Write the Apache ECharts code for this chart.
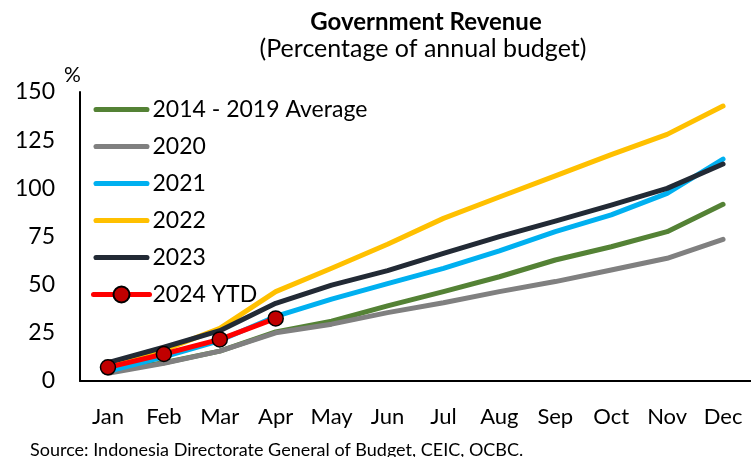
<!DOCTYPE html>
<html>
<head>
<meta charset="utf-8">
<script src="https://cdn.jsdelivr.net/npm/echarts@6/dist/echarts.min.js"></script>
<style>
  html, body { margin: 0; padding: 0; background: #fff; }
  #chart { width: 751px; height: 457px; }
</style>
</head>
<body>
<div id="chart"></div>
<script>
// 数据
const months = ['Jan', 'Feb', 'Mar', 'Apr', 'May', 'Jun', 'Jul', 'Aug', 'Sep', 'Oct', 'Nov', 'Dec'];
const avg1419 = [5, 9.5, 15.5, 25.5, 31, 39, 46.4, 54.1, 62.8, 69.7, 77.5, 91.7];
const y2020 = [4, 9.2, 15.5, 25, 29.5, 35.5, 40.6, 46.4, 51.6, 57.6, 63.7, 73.5];
const y2021 = [5, 12.5, 21, 33.5, 42.5, 50.5, 58.5, 67.5, 77.5, 86.2, 97.4, 115.2];
const y2022 = [8, 16, 27.3, 46.4, 58.5, 71, 84.4, 95.5, 106.5, 117.5, 128, 142.7];
const y2023 = [9.5, 17.5, 26.1, 40.3, 49.8, 57.3, 66.2, 74.9, 83, 91.3, 100, 112.6];
const y2024 = [7.1, 14.0, 21.6, 32.5];
const yTicks = [0, 25, 50, 75, 100, 125, 150];

const font = 'Lato, sans-serif';
const chart = echarts.init(document.getElementById('chart'));

// 图例线条图标（圆头）
const barIcon = 'path://M2.5,0 H52.5 A2.5,2.5 0 0 1 52.5,5 H2.5 A2.5,2.5 0 0 1 2.5,0 Z';

const plainLine = (name, data, color) => ({
  name, type: 'line', data, symbol: 'none',
  lineStyle: { color, width: 5, cap: 'round', join: 'round' },
  itemStyle: { color },
  z: 2
});

const option = {
  animation: false,
  title: [
    { text: 'Government Revenue', left: 421, top: 5, textAlign: 'center',
      textStyle: { fontFamily: font, fontSize: 24, fontWeight: 'bold', color: '#000' } },
    { text: '(Percentage of annual budget)', left: 418, top: 31, textAlign: 'center',
      textStyle: { fontFamily: font, fontSize: 25, fontWeight: 'normal', color: '#000' } },
    { text: '%', left: 59, top: 60,
      textStyle: { fontFamily: font, fontSize: 21, fontWeight: 'normal', color: '#000' } },
    { text: 'Source: Indonesia Directorate General of Budget, CEIC, OCBC.', left: 25, top: 436,
      textStyle: { fontFamily: font, fontSize: 18, fontWeight: 'normal', color: '#000' } }
  ],
  legend: {
    orient: 'vertical', left: 86, top: 93,
    itemWidth: 56, itemHeight: 20, itemGap: 14,
    textStyle: { fontFamily: font, fontSize: 23, lineHeight: 20, color: '#000', padding: [0, 0, 0, -2] },
    data: [
      { name: '2014 - 2019 Average', icon: barIcon },
      { name: '2020', icon: barIcon },
      { name: '2021', icon: barIcon },
      { name: '2022', icon: barIcon },
      { name: '2023', icon: barIcon },
      { name: '2024 YTD', lineStyle: { width: 5 } }
    ]
  },
  grid: { left: 80, top: 92, bottom: 76, width: 680 },
  xAxis: {
    type: 'category', data: months, boundaryGap: true,
    axisLine: { lineStyle: { color: '#000', width: 2 } },
    axisTick: { show: false },
    axisLabel: { interval: 0, fontFamily: font, fontSize: 22, color: '#000', margin: 25 }
  },
  yAxis: {
    type: 'value', min: 0, max: 150, interval: 25,
    axisLine: { show: true, lineStyle: { color: '#000', width: 2 } },
    axisTick: { show: false },
    splitLine: { show: false },
    axisLabel: { fontFamily: font, fontSize: 23, color: '#000', margin: 25,
      formatter: v => yTicks.includes(v) ? String(v) : '' }
  },
  series: [
    plainLine('2014 - 2019 Average', avg1419, '#548235'),
    plainLine('2020', y2020, '#808080'),
    plainLine('2021', y2021, '#00B0F0'),
    plainLine('2022', y2022, '#FFC000'),
    plainLine('2023', y2023, '#222A35'),
    {
      name: '2024 YTD', type: 'line', data: y2024,
      symbol: 'circle', symbolSize: 15,
      lineStyle: { color: '#FF0000', width: 5, cap: 'round', join: 'round' },
      itemStyle: { color: '#C00000', borderColor: '#000', borderWidth: 1.5 },
      z: 5
    }
  ]
};

chart.setOption(option);
</script>
</body>
</html>
